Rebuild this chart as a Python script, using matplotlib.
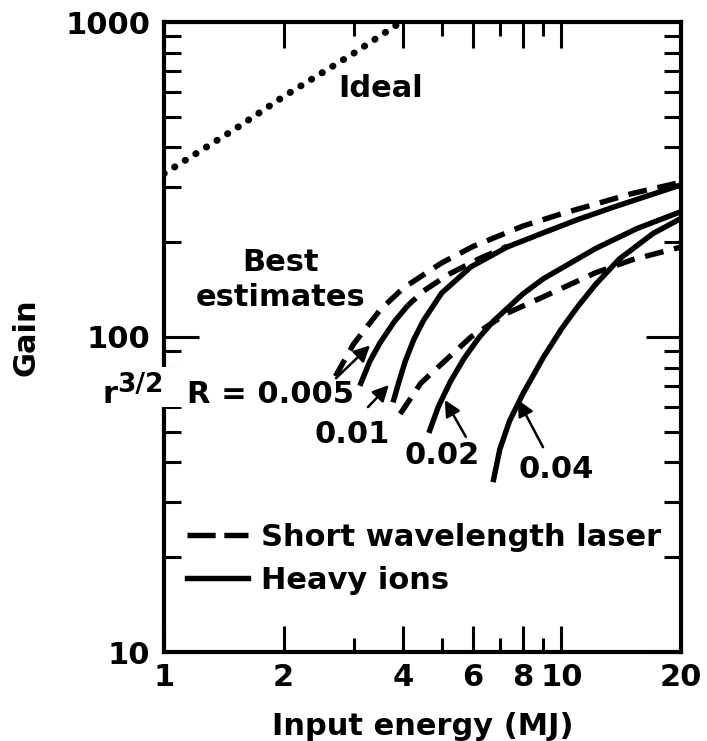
import matplotlib
matplotlib.use("Agg")
import matplotlib.pyplot as plt
from matplotlib.lines import Line2D
from matplotlib.patches import Rectangle
from matplotlib.ticker import FixedLocator, NullFormatter

plt.rcParams['font.family'] = 'DejaVu Sans'
plt.rcParams['font.weight'] = 'bold'

# curva ideal (punteada)
ideal_e = [1, 1.5, 2, 3, 3.95]
ideal_gain = [330, 455, 580, 795, 1000]

# laser de longitud de onda corta (discontinuas)
laser_a_e = [2.7, 3.0, 3.5, 4, 5, 6, 8, 10, 15, 20]
laser_a_gain = [75, 95, 122, 143, 172, 194, 225, 246, 285, 310]
laser_b_e = [3.93, 4.43, 5.12, 5.92, 7.3, 8.99, 12.2, 15.1, 20]
laser_b_gain = [57, 71.4, 84.5, 100, 119, 134, 160, 176, 193]

# iones pesados (continuas)
ion_0005_e = [3.11, 3.3, 3.5, 3.8, 4.11]
ion_0005_gain = [70, 84, 96, 112, 126]
ion_0005_tail_e = [4.11, 4.5, 5.2, 6.2, 7.3]
ion_0005_tail_gain = [126, 140, 158, 177, 194]
ion_001_e = [3.77, 3.9, 4.05, 4.25, 4.5, 5.0, 5.92, 7.3, 8.99, 11, 13.6, 20]
ion_001_gain = [62, 72, 84, 98, 113, 138, 167, 193, 214, 236, 259, 304]
ion_002_e = [4.64, 4.9, 5.25, 5.69, 6.2, 6.73, 8.0, 9.0, 12.2, 15.5, 20]
ion_002_gain = [49.6, 60, 72, 85.5, 99.5, 112, 137, 153, 191, 221, 250]
ion_004_e = [6.73, 7.0, 7.4, 8, 9, 10, 11, 12.2, 14, 17, 20]
ion_004_gain = [34.6, 44, 54, 66, 86, 106, 125, 147, 177, 213, 238]

x_ticks = [1, 2, 4, 6, 8, 10, 20]
x_minor = [3, 5, 7, 9]
y_ticks = [10, 100, 1000]
y_minor = [20, 30, 40, 50, 60, 70, 80, 90, 200, 300, 400, 500, 600, 700, 800, 900]

fs = 22
lw = 3.9
dash = (3.5, 2.0)

fig = plt.figure(figsize=(7.07, 7.41), dpi=100)
ax = fig.add_axes([164 / 707, 89 / 741, 517 / 707, 630 / 741])
ax.set_xscale('log')
ax.set_yscale('log')
ax.set_xlim(1, 20)
ax.set_ylim(10, 1000)

ax.plot(ideal_e, ideal_gain, color='black', lw=5, linestyle=(0, (0.05, 1.75)),
        dash_capstyle='round', solid_capstyle='round')
ax.plot(laser_a_e, laser_a_gain, color='black', lw=lw, linestyle=(0, dash))
ax.plot(laser_b_e, laser_b_gain, color='black', lw=lw, linestyle=(0, dash))
ax.plot(ion_0005_tail_e, ion_0005_tail_gain, color='black', lw=lw, linestyle=(1.5, dash))
for e, g in [(ion_0005_e, ion_0005_gain), (ion_001_e, ion_001_gain),
             (ion_002_e, ion_002_gain), (ion_004_e, ion_004_gain)]:
    ax.plot(e, g, color='black', lw=lw, solid_capstyle='butt')

for s in ax.spines.values():
    s.set_linewidth(3)

ax.xaxis.set_major_locator(FixedLocator(x_ticks))
ax.xaxis.set_minor_locator(FixedLocator(x_minor))
ax.set_xticklabels([str(t) for t in x_ticks])
ax.xaxis.set_minor_formatter(NullFormatter())
ax.yaxis.set_major_locator(FixedLocator(y_ticks))
ax.yaxis.set_minor_locator(FixedLocator(y_minor))
ax.set_yticklabels([str(t) for t in y_ticks])
ax.yaxis.set_minor_formatter(NullFormatter())

ax.tick_params(axis='x', which='major', direction='in', length=19, width=2.2,
               top=True, pad=8, labelsize=fs)
ax.tick_params(axis='x', which='minor', direction='in', length=10, width=2.2, top=True)
ax.tick_params(axis='y', which='major', direction='in', length=25, width=2.2,
               right=True, pad=10, labelsize=fs)
ax.tick_params(axis='y', which='minor', direction='in', length=12.5, width=2.2, right=True)

ax.set_xlabel('Input energy (MJ)', fontsize=fs, fontweight='bold', labelpad=14)
ax.set_ylabel('Gain', fontsize=fs, fontweight='bold', labelpad=18)

# textos
ax.text(3.5, 617, 'Ideal', fontsize=fs, ha='center', va='center')
ax.text(1.96, 173, 'Best', fontsize=fs, ha='center', va='center')
ax.text(1.96, 133, 'estimates', fontsize=fs, ha='center', va='center')
ax.text(1.14, 61.7, 'R = 0.005', fontsize=fs, ha='left', va='baseline')
ax.text(2.97, 48.9, '0.01', fontsize=fs, ha='center', va='center')
ax.text(5.01, 42.2, '0.02', fontsize=fs, ha='center', va='center')
ax.text(9.69, 38.1, '0.04', fontsize=fs, ha='center', va='center')

# hueco del eje bajo r^{3/2}
ax.add_patch(Rectangle((-0.012, 0.389), 0.047, 0.063, transform=ax.transAxes,
                       fc='white', ec='none', clip_on=False, zorder=4))
ax.text(-0.118, 0.395, 'r', fontsize=fs, ha='left', va='baseline',
        transform=ax.transAxes, clip_on=False, zorder=20)
ax.text(-0.09, 0.413, '3/2', fontsize=19, ha='left', va='baseline',
        transform=ax.transAxes, clip_on=False, zorder=20)

arrow = dict(arrowstyle='-|>', color='black', lw=1.8, mutation_scale=24,
             shrinkA=0, shrinkB=0)
ax.annotate('', xy=(3.3, 94), xytext=(2.71, 74), arrowprops=arrow)
ax.annotate('', xy=(3.68, 70.4), xytext=(3.26, 59.9), arrowprops=arrow)
ax.annotate('', xy=(5.09, 63.1), xytext=(5.75, 48.2), arrowprops=arrow)
ax.annotate('', xy=(7.78, 63.1), xytext=(8.99, 44.7), arrowprops=arrow)

handles = [Line2D([], [], color='black', lw=lw, linestyle=(0, (5.2, 1.6))),
           Line2D([], [], color='black', lw=lw)]
ax.legend(handles, ['Short wavelength laser', 'Heavy ions'], loc='upper left',
          bbox_to_anchor=(0.045, 0.205), frameon=False, fontsize=fs,
          handlelength=2.0, handletextpad=0.42, labelspacing=0.45,
          borderpad=0, borderaxespad=0)

fig.savefig('out.png', dpi=100)
